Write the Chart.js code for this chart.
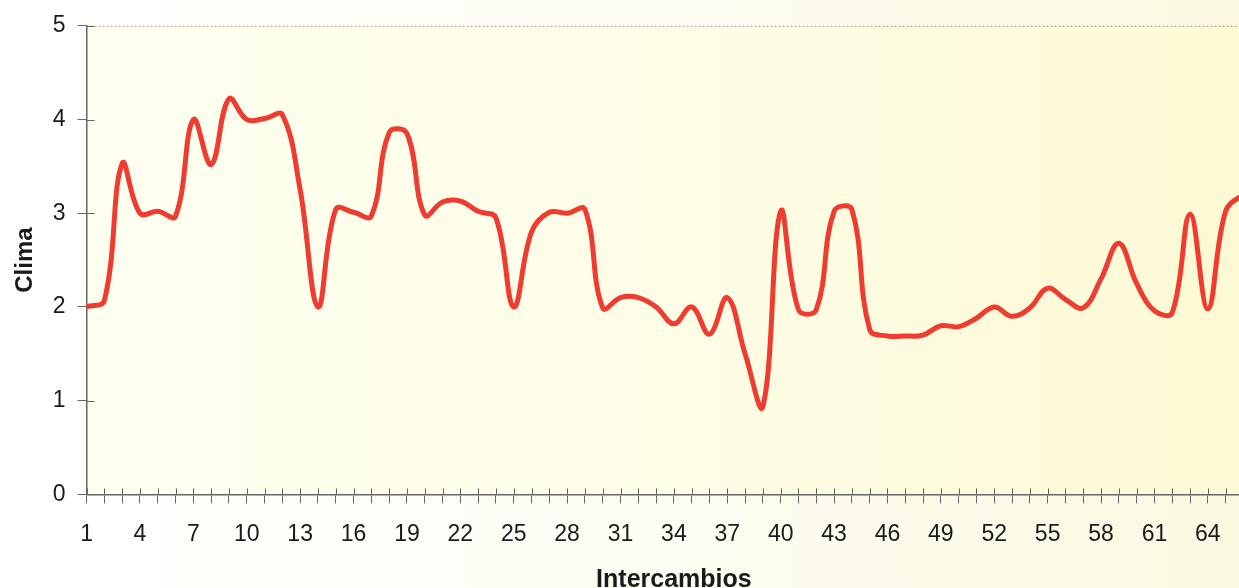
<!DOCTYPE html>
<html>
<head>
<meta charset="utf-8">
<script src="https://cdn.jsdelivr.net/npm/chart.js@4"></script>
<style>
  html, body { margin: 0; padding: 0; overflow: hidden; }
  body { width: 1239px; height: 588px; background: linear-gradient(to right, #ffffff 0%, #fdfdf4 50%, #fbf9e0 100%); }
  #chartClima { display: block; }
</style>
</head>
<body>
<canvas id="chartClima" width="1291" height="588"></canvas>
<script>
// intercambios 1..67 (the last two fall outside the photographed frame)
const labels = [1, 2, 3, 4, 5, 6, 7, 8, 9, 10, 11, 12, 13, 14, 15, 16, 17, 18, 19, 20,
  21, 22, 23, 24, 25, 26, 27, 28, 29, 30, 31, 32, 33, 34, 35, 36, 37, 38, 39, 40,
  41, 42, 43, 44, 45, 46, 47, 48, 49, 50, 51, 52, 53, 54, 55, 56, 57, 58, 59, 60,
  61, 62, 63, 64, 65, 66, 67];

const clima = [2.0, 2.07, 3.53, 3.0, 3.02, 2.97, 4.0, 3.52, 4.22, 4.0,
  4.01, 4.05, 3.25, 2.0, 3.04, 3.01, 2.97, 3.86, 3.85, 2.98,
  3.12, 3.13, 3.02, 2.95, 2.0, 2.8, 3.01, 3.0, 3.04, 1.99,
  2.1, 2.1, 2.0, 1.82, 2.0, 1.71, 2.1, 1.5, 0.94, 3.02,
  1.97, 1.97, 3.02, 3.04, 1.76, 1.69, 1.69, 1.7, 1.8, 1.79,
  1.88, 2.0, 1.9, 1.99, 2.2, 2.08, 1.99, 2.3, 2.68, 2.25,
  1.96, 1.94, 2.99, 1.98, 3.02, 3.2, 3.3];

const yTicks = [0, 1, 2, 3, 4, 5];

// fondo amarillo del area de trazado, borde superior punteado y marcas interiores
const plotDecor = {
  id: 'plotDecor',
  beforeDraw(chart) {
    const { ctx, chartArea: a } = chart;
    ctx.save();
    const g = ctx.createLinearGradient(a.left, 0, a.right, 0);
    g.addColorStop(0, '#fffff1');
    g.addColorStop(0.5, '#fefde6');
    g.addColorStop(1, '#fcf9d3');
    ctx.fillStyle = g;
    ctx.fillRect(a.left, a.top, a.right - a.left, a.bottom - a.top);
    ctx.restore();
  },
  afterDraw(chart) {
    const { ctx, chartArea: a, scales } = chart;
    ctx.save();
    // top border
    ctx.strokeStyle = '#b79a9a';
    ctx.lineWidth = 1;
    ctx.setLineDash([2, 2]);
    ctx.beginPath();
    ctx.moveTo(a.left, a.top + 0.5);
    ctx.lineTo(a.right, a.top + 0.5);
    ctx.stroke();
    ctx.setLineDash([]);
    // inner tick marks
    ctx.strokeStyle = '#666';
    ctx.lineWidth = 1;
    ctx.beginPath();
    scales.x.ticks.forEach((t, i) => {
      const px = Math.round(scales.x.getPixelForTick(i)) + 0.5;
      ctx.moveTo(px, a.bottom);
      ctx.lineTo(px, a.bottom - 6);
    });
    scales.y.ticks.forEach((t, i) => {
      const py = Math.round(scales.y.getPixelForTick(i)) + 0.5;
      ctx.moveTo(a.left, py);
      ctx.lineTo(a.left + 8, py);
    });
    ctx.stroke();
    ctx.restore();
  }
};

const data = {
  labels: labels,
  datasets: [{
    label: 'Clima',
    data: clima,
    fill: false,
    borderColor: '#f03b30',
    borderWidth: 5,
    pointRadius: 0,
    tension: 0.4
  }]
};

const config = {
  type: 'line',
  data: data,
  options: {
    responsive: false,
    animation: false,
    layout: { padding: { left: 6, top: 14, right: 0, bottom: -7 } },
    plugins: {
      legend: { display: false },
      tooltip: { enabled: false }
    },
    scales: {
      x: {
        offset: false,
        grid: { display: true, drawOnChartArea: false, tickLength: 9, color: '#666' },
        border: { color: '#666', width: 1.5 },
        ticks: {
          autoSkip: false,
          maxRotation: 0,
          padding: 17,
          color: '#1a1a1a',
          font: { family: 'Liberation Sans, Arial, sans-serif', size: 23 },
          callback: function (val, idx) { return idx % 3 === 0 ? labels[idx] : ''; }
        },
        title: {
          display: true,
          text: 'Intercambios',
          color: '#1a1a1a',
          font: { family: 'Liberation Sans, Arial, sans-serif', size: 25, weight: 'bold' },
          padding: { top: 0, bottom: 0 }
        }
      },
      y: {
        min: 0,
        max: 5,
        grid: { display: true, drawOnChartArea: false, tickLength: 9, color: '#666' },
        border: { color: '#666', width: 1.5 },
        afterBuildTicks: function (scale) { scale.ticks = yTicks.map(v => ({ value: v })); },
        ticks: {
          padding: 12,
          color: '#1a1a1a',
          font: { family: 'Liberation Sans, Arial, sans-serif', size: 23 }
        },
        title: {
          display: true,
          text: 'Clima',
          color: '#1a1a1a',
          font: { family: 'Liberation Sans, Arial, sans-serif', size: 24, weight: 'bold' },
          padding: { top: 5, bottom: 1 }
        }
      }
    }
  },
  plugins: [plotDecor]
};

const myChart = new Chart(document.getElementById('chartClima'), config);
</script>
</body>
</html>
